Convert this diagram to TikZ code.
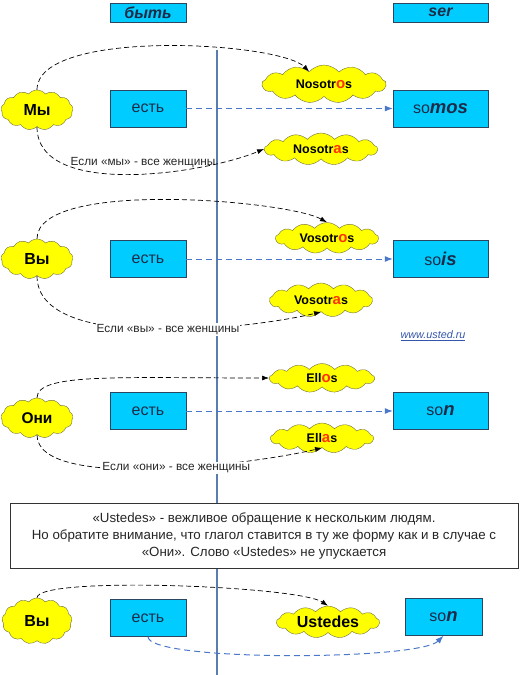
\documentclass[tikz,border=0pt]{standalone}
\usepackage{fontspec}
\setmainfont{Liberation Sans}
\usetikzlibrary{arrows.meta,shapes.symbols}
\definecolor{ink}{HTML}{1C2C48}
\definecolor{boxfill}{HTML}{00CCFF}
\definecolor{boxline}{HTML}{2A4660}
\definecolor{puff}{HTML}{FFFF00}
\definecolor{puffline}{HTML}{6E6E40}
\definecolor{endred}{HTML}{FF3300}
\definecolor{axisblue}{HTML}{5A7DB0}
\definecolor{linkblue}{HTML}{4A78C8}
\definecolor{webblue}{HTML}{3355AA}
\tikzset{
  verbbox/.style={draw=boxline,fill=boxfill,minimum width=76pt,minimum height=37pt,
    inner sep=0pt,text=ink,font=\fontsize{16}{18}\selectfont},
  headbox/.style={verbbox,minimum height=19pt,font=\fontsize{16}{18}\selectfont\bfseries\itshape},
  pronoun/.style={cloud,cloud puffs=13,cloud puff arc=100,cloud ignores aspect,draw=puffline,
    fill=puff,inner sep=0pt,font=\fontsize{16}{18}\selectfont\bfseries},
  formcloud/.style={pronoun,font=\fontsize{12.5}{14}\selectfont\bfseries},
  genderarrow/.style={-{Latex[length=7pt,width=5pt]},dash pattern=on 5pt off 3pt,line width=0.7pt},
  verbarrow/.style={-{Latex[length=8pt,width=6pt]},dash pattern=on 6pt off 4pt,draw=linkblue,line width=1pt},
  genderlabel/.style={fill=white,inner sep=1pt,text=black!85,font=\fontsize{11.8}{13}\selectfont},
  notebox/.style={draw=black!80,fill=white,minimum width=508pt,minimum height=65pt,align=center,
    text=black!85,font=\fontsize{13.3}{17}\selectfont}
}
\newcommand{\redend}[1]{{\color{endred}\fontsize{15}{13}\selectfont #1}}
\newcommand{\boldend}[1]{{\fontsize{18.5}{18}\selectfont\bfseries\itshape #1}}

\begin{document}
\begin{tikzpicture}[x=1pt,y=-1pt]
\useasboundingbox (0,0) rectangle (520,675);
% dividing line
\coordinate (axtop) at (217,50);
\coordinate (axbot) at (217,675);
\draw[axisblue,line width=1.5pt] (axtop) -- (axbot);
% headers
\node[headbox] (byt) at (148,12.5) {быть};
\node[headbox,minimum width=95pt] (ser) at (440.5,12.5) {ser};
% we
\node[pronoun,minimum width=72pt,minimum height=40pt] (my) at (37,110) {Мы};
\node[verbbox] (est1) at (148,108.5) {есть};
\node[verbbox,minimum width=95pt] (somos) at (440.5,108.5) {so\boldend{mos}};
\node[formcloud,minimum width=124pt,minimum height=38pt] (nosos) at (324,84) {Nosotr\redend{o}s};
\node[formcloud,minimum width=113pt,minimum height=32pt] (nosas) at (321,149) {Nosotr\redend{a}s};
\draw[verbarrow] (est1) -- (somos);
\draw[genderarrow] (my.north) .. controls +(0,-62) and +(-30,-30) .. (nosos.140);
\draw[genderarrow] (my.south) .. controls +(0,72) and +(-60,25) .. (nosas.west)
  node[genderlabel,fill=none,pos=0.55,yshift=11pt] {Если «мы» - все женщины};
% you
\node[pronoun,minimum width=72pt,minimum height=40pt] (vy) at (37,259) {Вы};
\node[verbbox] (est2) at (148,259) {есть};
\node[verbbox,minimum width=95pt] (sois) at (440.5,259) {so\boldend{is}};
\node[formcloud,minimum width=103pt,minimum height=31pt] (vosos) at (327,238) {Vosotr\redend{o}s};
\node[formcloud,minimum width=103pt,minimum height=34pt] (vosas) at (321,300) {Vosotr\redend{a}s};
\draw[verbarrow] (est2) -- (sois);
\draw[genderarrow] (vy.north) .. controls +(0,-60) and +(-40,-22) .. (vosos.north);
\draw[genderarrow] (vy.south) .. controls +(0,80) and +(-60,15) .. (vosas.south)
  node[genderlabel,pos=0.53] {Если «вы» - все женщины};
\node[text=webblue,font=\fontsize{10.8}{12}\selectfont\itshape] (site) at (433,336) {\underline{www.usted.ru}};
% they
\node[pronoun,minimum width=72pt,minimum height=40pt,font=\fontsize{15.5}{18}\selectfont\bfseries] (oni) at (37,418) {Они};
\node[verbbox] (est3) at (148,411) {есть};
\node[verbbox,minimum width=95pt] (son) at (440.5,411) {so\boldend{n}};
\node[formcloud,minimum width=105pt,minimum height=29pt] (ellos) at (322,378) {Ell\redend{o}s};
\node[formcloud,minimum width=103pt,minimum height=30pt] (ellas) at (322,438) {Ell\redend{a}s};
\draw[verbarrow] (est3) -- (son);
\draw[genderarrow] (oni.north) .. controls +(0,-25) and +(-150,0) .. (ellos.west);
\draw[genderarrow] (oni.south) .. controls +(0,58) and +(-60,15) .. (ellas.south)
  node[genderlabel,pos=0.55] {Если «они» - все женщины};
% note
\node[notebox] (note) at (264,535.5) {«Ustedes» - вежливое обращение к нескольким людям.\\
  Но обратите внимание, что глагол ставится в ту же форму как и в случае с\\
  «Они». Слово «Ustedes» не упускается};
% polite you
\node[pronoun,minimum width=70pt,minimum height=46pt] (vy2) at (37,621) {Вы};
\node[verbbox] (est4) at (148,618) {есть};
\node[formcloud,minimum width=103pt,minimum height=32pt,font=\fontsize{16}{18}\selectfont\bfseries] (usted) at (328,622) {Ustedes};
\node[verbbox,minimum width=77pt] (son2) at (443.5,617) {so\boldend{n}};
\draw[genderarrow] (vy2.north) .. controls +(0,-22) and +(-30,-20) .. (usted.north);
\draw[verbarrow] (est4.south) .. controls +(0,25) and +(-25,25) .. (son2.south);
\end{tikzpicture}
\end{document}
